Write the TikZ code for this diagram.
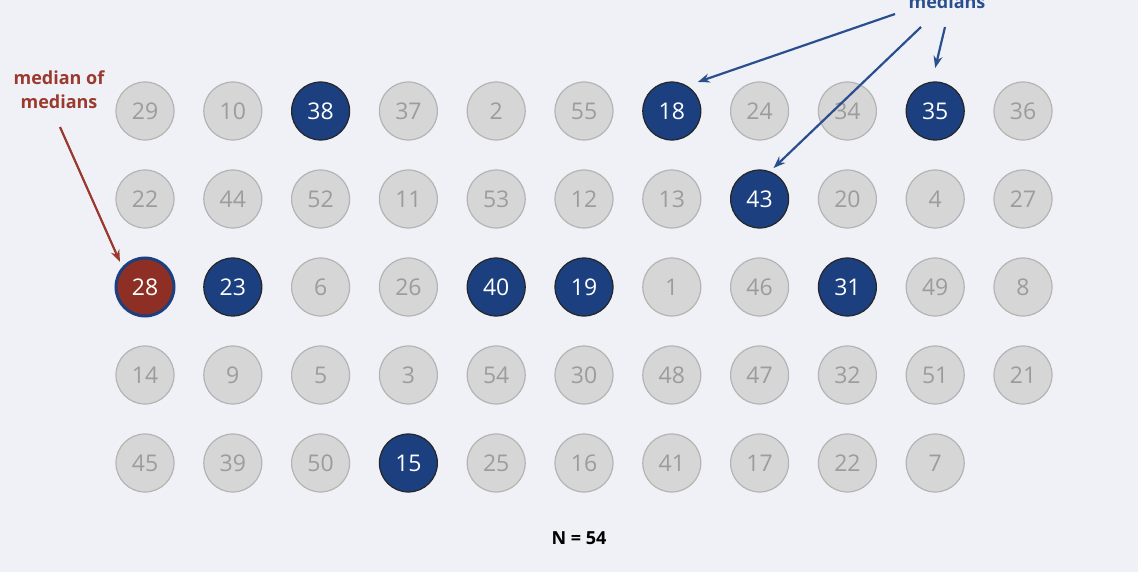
\documentclass[tikz,border=0pt]{standalone}
\usepackage{fontspec}
\setmainfont{Open Sans}
\usetikzlibrary{arrows.meta,calc}
\definecolor{bg}{HTML}{F0F1F7}
\definecolor{cgray}{HTML}{D6D6D6}
\definecolor{cgrayline}{HTML}{B4B4B4}
\definecolor{tgray}{HTML}{9C9C9C}
\definecolor{mblue}{HTML}{1B3F7F}
\definecolor{mred}{HTML}{8E2F25}
\definecolor{lred}{HTML}{9A3A2E}
\definecolor{lblue}{HTML}{2A4F8F}
\tikzset{
  num/.style={circle, minimum size=58pt, inner sep=0pt, font=\fontsize{23}{25}\selectfont},
  gnum/.style={num, fill=cgray, draw=cgrayline, line width=1.2pt, text=tgray},
  bnum/.style={num, fill=mblue, draw=black!85, line width=1.2pt, text=white},
  rnum/.style={num, fill=mred, draw=mblue, line width=3pt, text=white},
  barrow/.style={draw=lblue, line width=2.2pt, -{Stealth[length=12pt,width=9pt]}},
  rarrow/.style={draw=lred, line width=2.2pt, -{Stealth[length=12pt,width=9pt]}},
}
\begin{document}
\begin{tikzpicture}[x=1pt, y=-1pt]
\fill[bg] (0,0) rectangle (1138,572);
\useasboundingbox (0,0) rectangle (1138,572);
% grid
\foreach \r/\vals in {1/{29,10,38,37,2,55,18,24,34,35,36},
                      2/{22,44,52,11,53,12,13,43,20,4,27},
                      3/{28,23,6,26,40,19,1,46,31,49,8},
                      4/{14,9,5,3,54,30,48,47,32,51,21},
                      5/{45,39,50,15,25,16,41,17,22,7}} {
  \foreach \v [count=\c] in \vals {
    \pgfmathsetmacro{\xx}{145+(\c-1)*87.8}
    \pgfmathsetmacro{\yy}{111+(\r-1)*88}
    \def\sty{gnum}
    \ifnum\r=1 \ifnum\c=3 \def\sty{bnum}\fi\ifnum\c=7 \def\sty{bnum}\fi\ifnum\c=10 \def\sty{bnum}\fi\fi
    \ifnum\r=2 \ifnum\c=8 \def\sty{bnum}\fi\fi
    \ifnum\r=3 \ifnum\c=1 \def\sty{rnum}\fi\ifnum\c=2 \def\sty{bnum}\fi\ifnum\c=5 \def\sty{bnum}\fi\ifnum\c=6 \def\sty{bnum}\fi\ifnum\c=9 \def\sty{bnum}\fi\fi
    \ifnum\r=5 \ifnum\c=4 \def\sty{bnum}\fi\fi
    \node[\sty] (n\r-\c) at (\xx,\yy) {\v};
  }
}
% labels
\node[text=lblue, font=\fontsize{18}{20}\selectfont\bfseries, anchor=base] (med) at (947,9) {medians};
\node[text=lred, font=\fontsize{18}{24}\selectfont\bfseries, align=center] (mom) at (59,90) {median of\\medians};
\node[font=\fontsize{18}{22}\selectfont\bfseries] (N) at (579,538) {N = 54};
% arrows
\coordinate (a1) at (895,14);
\coordinate (a2) at (921,27);
\coordinate (a3) at (945,27);
\draw[barrow] (a1) -- ($(n1-7)+(26,-29)$);
\draw[barrow] (a2) -- ($(n2-8)+(14,-31)$);
\draw[barrow] (a3) -- ($(n1-10)+(0,-43)$);
\coordinate (r1) at (60,127);
\draw[rarrow] (r1) -- ($(n3-1)+(-25,-25)$);
\end{tikzpicture}
\end{document}
